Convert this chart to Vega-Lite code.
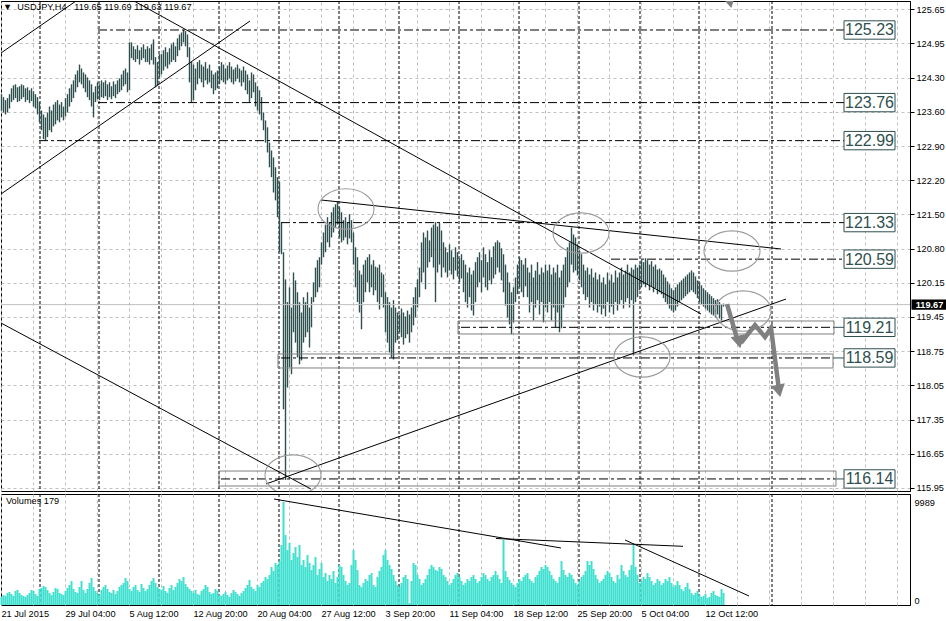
{
"$schema":"https://vega.github.io/schema/vega-lite/v6.json",
"padding":0,
"autosize":{"type":"pad"},
"background":"#ffffff",
"spacing":-3,
"config":{"view":{"stroke":"#000000","strokeWidth":1},"text":{"font":"Liberation Sans"}},
"datasets":{
"weeks":[{"i":19.25},{"i":48.75},{"i":78.75},{"i":108.75},{"i":138.75},{"i":168.75},{"i":198.75},{"i":228.75},{"i":258.75},{"i":288.75},{"i":319.25},{"i":348.75},{"i":385.25}],
"last":[{"price":119.67}],
"levels":[{"lv":125.23,"s":48.25,"e":421.25},{"lv":123.76,"s":48.25,"e":421.25},{"lv":122.99,"s":18.75,"e":421.25},{"lv":121.33,"s":139.75,"e":421.25},{"lv":120.59,"s":304.75,"e":421.25},{"lv":119.21,"s":229.75,"e":416.25},{"lv":118.59,"s":139.75,"e":415.75},{"lv":116.14,"s":109.75,"e":417.25}],
"boxes":[{"x1":228.25,"x2":416.25,"p1":119.338,"p2":119.075},{"x1":138.25,"x2":415.75,"p1":118.67,"p2":118.387},{"x1":108.75,"x2":417.25,"p1":116.3,"p2":115.997}],
"trends":[{"i1":-0.25,"p1":121.909,"i2":124.25,"p2":125.412},{"i1":-0.25,"p1":124.764,"i2":37.25,"p2":125.817},{"i1":66.25,"p1":125.817,"i2":349.75,"p2":119.48},{"i1":159.75,"p1":121.788,"i2":389.75,"p2":120.796},{"i1":132.25,"p1":116.038,"i2":392.25,"p2":119.783},{"i1":-0.25,"p1":119.297,"i2":154.75,"p2":115.936}],
"vtrends":[{"i1":136.25,"v1":10280,"i2":279.75,"v2":5528},{"i1":247.25,"v1":6449,"i2":340.75,"v2":5693},{"i1":311.75,"v1":6304,"i2":373.75,"v2":873}],
"ellipses":[{"i":172.25,"p":121.606},{"i":289.75,"p":121.12},{"i":365.25,"p":120.755},{"i":370.75,"p":119.54},{"i":320.25,"p":118.609},{"i":145.75,"p":116.22}],
"arrows":[{"seg":1,"o":1,"i":362.75,"p":119.682},{"seg":1,"o":2,"i":368.25,"p":118.913},{"seg":2,"o":1,"i":369.75,"p":118.893},{"seg":2,"o":2,"i":376.75,"p":119.257},{"seg":2,"o":3,"i":381.75,"p":119.014},{"seg":2,"o":4,"i":384.75,"p":119.196},{"seg":2,"o":5,"i":388.75,"p":117.94}],
"heads":[{"i":368.75,"p":118.913},{"i":388.75,"p":117.921},{"i":364.25,"p":125.8}],
"bars":[
{"i":0,"h":123.93,"l":123.60,"v":776},{"i":1,"h":123.87,"l":123.56,"v":970},{"i":2,"h":123.81,"l":123.52,"v":873},{"i":3,"h":123.85,"l":123.56,"v":1164},{"i":4,"h":123.93,"l":123.64,"v":1261},
{"i":5,"h":124.05,"l":123.77,"v":1067},{"i":6,"h":124.11,"l":123.81,"v":873},{"i":7,"h":124.13,"l":123.85,"v":1358},{"i":8,"h":124.07,"l":123.77,"v":1455},{"i":9,"h":124.09,"l":123.79,"v":1164},
{"i":10,"h":124.13,"l":123.83,"v":970},{"i":11,"h":124.11,"l":123.87,"v":873},{"i":12,"h":124.05,"l":123.77,"v":776},{"i":13,"h":124.07,"l":123.81,"v":970},{"i":14,"h":124.01,"l":123.75,"v":1164},
{"i":15,"h":124.05,"l":123.79,"v":1455},{"i":16,"h":123.99,"l":123.68,"v":1358},{"i":17,"h":123.93,"l":123.64,"v":1067},{"i":18,"h":123.87,"l":123.52,"v":873},{"i":19,"h":123.77,"l":123.36,"v":1552},
{"i":20,"h":123.60,"l":123.20,"v":1649},{"i":21,"h":123.52,"l":123.02,"v":1843},{"i":22,"h":123.46,"l":122.99,"v":1746},{"i":23,"h":123.56,"l":123.06,"v":1455},{"i":24,"h":123.68,"l":123.20,"v":1164},
{"i":25,"h":123.60,"l":123.16,"v":970},{"i":26,"h":123.72,"l":123.28,"v":1261},{"i":27,"h":123.77,"l":123.32,"v":1649},{"i":28,"h":123.81,"l":123.40,"v":1552},{"i":29,"h":123.72,"l":123.36,"v":1164},
{"i":30,"h":123.77,"l":123.46,"v":1067},{"i":31,"h":123.68,"l":123.40,"v":970},{"i":32,"h":123.85,"l":123.48,"v":1358},{"i":33,"h":123.93,"l":123.56,"v":1649},{"i":34,"h":124.05,"l":123.68,"v":1940},
{"i":35,"h":124.13,"l":123.77,"v":2328},{"i":36,"h":124.21,"l":123.85,"v":1552},{"i":37,"h":124.33,"l":123.97,"v":1261},{"i":38,"h":124.41,"l":124.07,"v":1164},{"i":39,"h":124.53,"l":124.17,"v":1746},
{"i":40,"h":124.45,"l":124.13,"v":2328},{"i":41,"h":124.37,"l":124.05,"v":1455},{"i":42,"h":124.33,"l":123.97,"v":1164},{"i":43,"h":124.27,"l":123.87,"v":1552},{"i":44,"h":124.21,"l":123.81,"v":2134},
{"i":45,"h":124.13,"l":123.68,"v":2619},{"i":46,"h":123.97,"l":123.46,"v":1746},{"i":47,"h":124.09,"l":123.77,"v":1358},{"i":48,"h":124.17,"l":123.83,"v":1164},{"i":49,"h":124.13,"l":123.81,"v":970},
{"i":50,"h":124.21,"l":123.87,"v":1455},{"i":51,"h":124.17,"l":123.85,"v":1746},{"i":52,"h":124.21,"l":123.89,"v":1940},{"i":53,"h":124.13,"l":123.81,"v":1552},{"i":54,"h":124.17,"l":123.87,"v":1261},
{"i":55,"h":124.09,"l":123.83,"v":1164},{"i":56,"h":124.19,"l":123.89,"v":1455},{"i":57,"h":124.13,"l":123.85,"v":1067},{"i":58,"h":124.21,"l":123.93,"v":1358},{"i":59,"h":124.25,"l":123.97,"v":1746},
{"i":60,"h":124.33,"l":124.01,"v":1940},{"i":61,"h":124.41,"l":124.09,"v":2134},{"i":62,"h":124.45,"l":124.13,"v":2619},{"i":63,"h":124.37,"l":123.97,"v":2328},{"i":64,"h":124.98,"l":124.01,"v":1552},
{"i":65,"h":124.98,"l":124.66,"v":1358},{"i":66,"h":124.90,"l":124.62,"v":1746},{"i":67,"h":124.84,"l":124.58,"v":1940},{"i":68,"h":124.92,"l":124.64,"v":1455},{"i":69,"h":124.82,"l":124.53,"v":1261},
{"i":70,"h":124.88,"l":124.62,"v":2037},{"i":71,"h":124.94,"l":124.66,"v":1649},{"i":72,"h":124.84,"l":124.58,"v":1358},{"i":73,"h":124.90,"l":124.58,"v":1552},{"i":74,"h":124.86,"l":124.53,"v":1940},
{"i":75,"h":124.94,"l":124.62,"v":2328},{"i":76,"h":125.04,"l":124.53,"v":2619},{"i":77,"h":124.68,"l":124.07,"v":2134},{"i":78,"h":124.58,"l":124.11,"v":1746},{"i":79,"h":124.74,"l":124.27,"v":1552},
{"i":80,"h":124.74,"l":124.33,"v":1455},{"i":81,"h":124.82,"l":124.41,"v":1843},{"i":82,"h":124.88,"l":124.49,"v":1358},{"i":83,"h":124.78,"l":124.45,"v":1164},{"i":84,"h":124.86,"l":124.53,"v":1649},
{"i":85,"h":124.94,"l":124.58,"v":1940},{"i":86,"h":124.98,"l":124.62,"v":1455},{"i":87,"h":124.90,"l":124.58,"v":1746},{"i":88,"h":125.06,"l":124.70,"v":2134},{"i":89,"h":125.14,"l":124.82,"v":2522},
{"i":90,"h":125.18,"l":124.90,"v":2328},{"i":91,"h":125.23,"l":124.98,"v":2716},{"i":92,"h":125.21,"l":124.90,"v":2037},{"i":93,"h":125.14,"l":124.68,"v":1746},{"i":94,"h":124.88,"l":124.17,"v":1552},
{"i":95,"h":124.58,"l":123.76,"v":1358},{"i":96,"h":124.53,"l":123.81,"v":1164},{"i":97,"h":124.45,"l":124.01,"v":1455},{"i":98,"h":124.58,"l":124.13,"v":1067},{"i":99,"h":124.62,"l":124.25,"v":970},
{"i":100,"h":124.53,"l":124.17,"v":1358},{"i":101,"h":124.49,"l":124.07,"v":1552},{"i":102,"h":124.58,"l":124.21,"v":1940},{"i":103,"h":124.45,"l":124.13,"v":1746},{"i":104,"h":124.53,"l":124.17,"v":1261},
{"i":105,"h":124.41,"l":124.05,"v":1067},{"i":106,"h":124.33,"l":123.93,"v":1164},{"i":107,"h":124.37,"l":124.01,"v":1552},{"i":108,"h":124.41,"l":124.05,"v":1358},{"i":109,"h":124.49,"l":124.13,"v":970},
{"i":110,"h":124.58,"l":124.21,"v":873},{"i":111,"h":124.53,"l":124.17,"v":1067},{"i":112,"h":124.45,"l":124.13,"v":1261},{"i":113,"h":124.51,"l":124.21,"v":970},{"i":114,"h":124.58,"l":124.25,"v":776},
{"i":115,"h":124.49,"l":124.17,"v":1164},{"i":116,"h":124.43,"l":124.13,"v":1455},{"i":117,"h":124.47,"l":124.19,"v":1261},{"i":118,"h":124.53,"l":124.25,"v":1067},{"i":119,"h":124.45,"l":124.17,"v":873},
{"i":120,"h":124.41,"l":124.09,"v":1164},{"i":121,"h":124.49,"l":124.17,"v":1358},{"i":122,"h":124.41,"l":124.01,"v":1649},{"i":123,"h":124.33,"l":123.93,"v":1940},{"i":124,"h":124.21,"l":123.77,"v":2425},
{"i":125,"h":124.37,"l":123.85,"v":1746},{"i":126,"h":124.33,"l":123.97,"v":1552},{"i":127,"h":124.17,"l":123.68,"v":1358},{"i":128,"h":124.09,"l":123.60,"v":1940},{"i":129,"h":124.01,"l":123.52,"v":1746},
{"i":130,"h":123.87,"l":123.40,"v":2134},{"i":131,"h":123.56,"l":123.20,"v":2328},{"i":132,"h":123.40,"l":122.95,"v":2716},{"i":133,"h":123.26,"l":122.75,"v":2522},{"i":134,"h":122.95,"l":122.45,"v":2910},
{"i":135,"h":122.79,"l":122.25,"v":3686},{"i":136,"h":122.65,"l":121.94,"v":3298},{"i":137,"h":122.45,"l":121.78,"v":4074},{"i":138,"h":122.25,"l":121.44,"v":3880},{"i":139,"h":122.15,"l":120.73,"v":4268},
{"i":140,"h":121.33,"l":120.69,"v":5820},{"i":141,"h":120.73,"l":117.55,"v":9989},{"i":142,"h":120.18,"l":116.12,"v":6790},{"i":143,"h":119.72,"l":117.99,"v":5335},{"i":144,"h":120.02,"l":118.40,"v":6014},
{"i":145,"h":119.61,"l":118.26,"v":4365},{"i":146,"h":120.32,"l":119.11,"v":5044},{"i":147,"h":120.16,"l":118.90,"v":5626},{"i":148,"h":119.92,"l":118.60,"v":4656},{"i":149,"h":119.72,"l":118.46,"v":5820},
{"i":150,"h":119.51,"l":118.54,"v":3880},{"i":151,"h":119.82,"l":118.90,"v":4365},{"i":152,"h":119.72,"l":119.01,"v":3686},{"i":153,"h":119.92,"l":119.11,"v":4850},{"i":154,"h":119.61,"l":118.80,"v":4074},
{"i":155,"h":119.82,"l":119.21,"v":3395},{"i":156,"h":120.12,"l":119.72,"v":3880},{"i":157,"h":120.42,"l":119.82,"v":4656},{"i":158,"h":120.57,"l":119.92,"v":2910},{"i":159,"h":120.63,"l":120.02,"v":3492},
{"i":160,"h":120.93,"l":120.48,"v":4074},{"i":161,"h":121.13,"l":120.63,"v":2716},{"i":162,"h":121.29,"l":120.73,"v":3104},{"i":163,"h":121.44,"l":120.93,"v":2328},{"i":164,"h":121.34,"l":120.83,"v":2910},
{"i":165,"h":121.54,"l":121.03,"v":2522},{"i":166,"h":121.64,"l":121.13,"v":3298},{"i":167,"h":121.70,"l":121.23,"v":2134},{"i":168,"h":121.76,"l":121.29,"v":2716},{"i":169,"h":121.64,"l":121.03,"v":3880},
{"i":170,"h":121.54,"l":120.93,"v":3686},{"i":171,"h":121.38,"l":120.97,"v":2910},{"i":172,"h":121.44,"l":121.03,"v":2328},{"i":173,"h":121.34,"l":120.89,"v":1940},{"i":174,"h":121.50,"l":121.01,"v":2134},
{"i":175,"h":121.38,"l":120.93,"v":3880},{"i":176,"h":121.13,"l":120.48,"v":5335},{"i":177,"h":120.83,"l":120.02,"v":4365},{"i":178,"h":120.63,"l":119.72,"v":3395},{"i":179,"h":120.36,"l":119.51,"v":1940},
{"i":180,"h":120.28,"l":119.17,"v":1746},{"i":181,"h":120.48,"l":119.72,"v":2134},{"i":182,"h":120.57,"l":119.92,"v":2522},{"i":183,"h":120.63,"l":120.12,"v":2328},{"i":184,"h":120.69,"l":119.92,"v":2910},
{"i":185,"h":120.48,"l":120.02,"v":3104},{"i":186,"h":120.57,"l":119.86,"v":1940},{"i":187,"h":120.44,"l":119.96,"v":1746},{"i":188,"h":120.42,"l":119.72,"v":2716},{"i":189,"h":120.48,"l":119.57,"v":3298},
{"i":190,"h":120.32,"l":119.82,"v":3686},{"i":191,"h":120.28,"l":119.61,"v":4850},{"i":192,"h":119.92,"l":119.11,"v":5335},{"i":193,"h":119.82,"l":118.90,"v":4365},{"i":194,"h":119.72,"l":118.70,"v":3880},
{"i":195,"h":119.61,"l":118.60,"v":3492},{"i":196,"h":119.76,"l":118.56,"v":2910},{"i":197,"h":119.61,"l":118.90,"v":2328},{"i":198,"h":119.51,"l":118.95,"v":1940},{"i":199,"h":119.47,"l":119.11,"v":1746},
{"i":200,"h":119.59,"l":119.01,"v":2134},{"i":201,"h":119.51,"l":118.86,"v":2716},{"i":202,"h":119.43,"l":118.99,"v":2910},{"i":203,"h":119.55,"l":119.07,"v":2522},{"i":204,"h":119.47,"l":118.90,"v":194},
{"i":205,"h":119.61,"l":119.11,"v":2328},{"i":206,"h":119.82,"l":119.25,"v":4074},{"i":207,"h":120.02,"l":119.41,"v":3880},{"i":208,"h":120.18,"l":119.61,"v":2910},{"i":209,"h":120.42,"l":119.82,"v":2522},
{"i":210,"h":120.93,"l":120.12,"v":1940},{"i":211,"h":121.13,"l":120.32,"v":2134},{"i":212,"h":121.03,"l":119.98,"v":2522},{"i":213,"h":121.17,"l":120.42,"v":2910},{"i":214,"h":120.97,"l":120.53,"v":3492},
{"i":215,"h":121.23,"l":120.63,"v":3880},{"i":216,"h":121.29,"l":120.42,"v":3686},{"i":217,"h":121.34,"l":119.72,"v":3395},{"i":218,"h":121.25,"l":120.32,"v":3298},{"i":219,"h":121.32,"l":120.48,"v":3686},
{"i":220,"h":121.17,"l":120.22,"v":3492},{"i":221,"h":120.93,"l":120.42,"v":2910},{"i":222,"h":120.83,"l":120.32,"v":2716},{"i":223,"h":120.73,"l":120.22,"v":2328},{"i":224,"h":120.89,"l":120.36,"v":1940},
{"i":225,"h":120.77,"l":120.28,"v":2134},{"i":226,"h":120.63,"l":120.18,"v":2522},{"i":227,"h":120.83,"l":120.36,"v":2910},{"i":228,"h":120.73,"l":120.24,"v":3104},{"i":229,"h":120.61,"l":120.12,"v":2716},
{"i":230,"h":120.69,"l":120.20,"v":2328},{"i":231,"h":120.57,"l":119.92,"v":1940},{"i":232,"h":120.48,"l":119.72,"v":2134},{"i":233,"h":120.32,"l":119.61,"v":2522},{"i":234,"h":120.42,"l":119.82,"v":2328},
{"i":235,"h":120.28,"l":119.55,"v":2716},{"i":236,"h":120.36,"l":119.45,"v":2910},{"i":237,"h":120.53,"l":119.72,"v":2522},{"i":238,"h":120.63,"l":120.02,"v":2134},{"i":239,"h":120.73,"l":120.12,"v":2328},
{"i":240,"h":120.57,"l":119.92,"v":2716},{"i":241,"h":120.83,"l":120.22,"v":3104},{"i":242,"h":120.69,"l":120.02,"v":2910},{"i":243,"h":120.53,"l":119.96,"v":2522},{"i":244,"h":120.77,"l":120.16,"v":2328},
{"i":245,"h":120.63,"l":120.08,"v":2716},{"i":246,"h":120.85,"l":120.20,"v":2910},{"i":247,"h":120.93,"l":120.28,"v":3298},{"i":248,"h":120.97,"l":120.42,"v":2910},{"i":249,"h":120.93,"l":120.32,"v":2522},
{"i":250,"h":120.81,"l":120.16,"v":2134},{"i":251,"h":120.69,"l":119.92,"v":6305},{"i":252,"h":120.48,"l":119.65,"v":3298},{"i":253,"h":120.32,"l":119.41,"v":2716},{"i":254,"h":120.12,"l":119.27,"v":2425},
{"i":255,"h":119.92,"l":119.07,"v":2134},{"i":256,"h":120.02,"l":119.31,"v":1940},{"i":257,"h":120.22,"l":119.72,"v":1746},{"i":258,"h":120.48,"l":119.88,"v":2134},{"i":259,"h":120.63,"l":120.02,"v":2522},
{"i":260,"h":120.57,"l":119.92,"v":2328},{"i":261,"h":120.48,"l":119.82,"v":2716},{"i":262,"h":120.61,"l":120.04,"v":2910},{"i":263,"h":120.42,"l":119.82,"v":3104},{"i":264,"h":120.32,"l":119.51,"v":2522},
{"i":265,"h":120.48,"l":119.72,"v":2328},{"i":266,"h":120.22,"l":119.35,"v":2134},{"i":267,"h":120.36,"l":119.61,"v":2716},{"i":268,"h":120.53,"l":119.76,"v":2910},{"i":269,"h":120.28,"l":119.47,"v":3298},
{"i":270,"h":120.42,"l":119.72,"v":3686},{"i":271,"h":120.32,"l":119.31,"v":3492},{"i":272,"h":120.48,"l":119.61,"v":3880},{"i":273,"h":120.36,"l":119.51,"v":3686},{"i":274,"h":120.48,"l":119.72,"v":3298},
{"i":275,"h":120.28,"l":119.35,"v":2910},{"i":276,"h":120.42,"l":119.61,"v":2522},{"i":277,"h":120.32,"l":119.21,"v":2328},{"i":278,"h":120.48,"l":119.51,"v":2134},{"i":279,"h":120.22,"l":119.11,"v":2716},
{"i":280,"h":120.36,"l":119.19,"v":4268},{"i":281,"h":120.48,"l":119.61,"v":3395},{"i":282,"h":120.63,"l":119.82,"v":2910},{"i":283,"h":120.83,"l":120.02,"v":2716},{"i":284,"h":120.93,"l":120.12,"v":3104},
{"i":285,"h":121.23,"l":120.48,"v":2910},{"i":286,"h":121.09,"l":120.32,"v":2522},{"i":287,"h":121.03,"l":120.36,"v":2134},{"i":288,"h":120.89,"l":120.26,"v":1940},{"i":289,"h":120.77,"l":120.16,"v":2328},
{"i":290,"h":120.69,"l":120.02,"v":2716},{"i":291,"h":120.48,"l":119.88,"v":2910},{"i":292,"h":120.36,"l":119.76,"v":3298},{"i":293,"h":120.42,"l":119.82,"v":4268},{"i":294,"h":120.28,"l":119.61,"v":3880},
{"i":295,"h":120.40,"l":119.72,"v":4268},{"i":296,"h":120.22,"l":119.55,"v":3492},{"i":297,"h":120.32,"l":119.68,"v":2910},{"i":298,"h":120.18,"l":119.51,"v":2522},{"i":299,"h":120.28,"l":119.63,"v":2134},
{"i":300,"h":120.12,"l":119.47,"v":2328},{"i":301,"h":120.22,"l":119.59,"v":2522},{"i":302,"h":120.08,"l":119.43,"v":2910},{"i":303,"h":120.32,"l":119.72,"v":3298},{"i":304,"h":120.16,"l":119.51,"v":3104},
{"i":305,"h":120.28,"l":119.63,"v":2716},{"i":306,"h":120.12,"l":119.47,"v":2328},{"i":307,"h":120.36,"l":119.72,"v":2134},{"i":308,"h":120.22,"l":119.55,"v":2910},{"i":309,"h":120.32,"l":119.68,"v":2522},
{"i":310,"h":120.42,"l":119.76,"v":3880},{"i":311,"h":120.28,"l":119.59,"v":3298},{"i":312,"h":120.36,"l":119.72,"v":2910},{"i":313,"h":120.48,"l":119.80,"v":2716},{"i":314,"h":120.32,"l":119.61,"v":3395},
{"i":315,"h":120.42,"l":119.76,"v":3880},{"i":316,"h":120.38,"l":118.64,"v":5820},{"i":317,"h":120.48,"l":119.72,"v":3686},{"i":318,"h":120.42,"l":119.82,"v":2910},{"i":319,"h":120.48,"l":119.96,"v":2134},
{"i":320,"h":120.57,"l":120.02,"v":2328},{"i":321,"h":120.53,"l":120.08,"v":2716},{"i":322,"h":120.61,"l":120.02,"v":2522},{"i":323,"h":120.57,"l":120.08,"v":3104},{"i":324,"h":120.48,"l":119.96,"v":2716},
{"i":325,"h":120.55,"l":120.04,"v":2328},{"i":326,"h":120.44,"l":119.92,"v":1940},{"i":327,"h":120.48,"l":120.00,"v":2134},{"i":328,"h":120.38,"l":119.88,"v":2522},{"i":329,"h":120.40,"l":119.92,"v":2328},
{"i":330,"h":120.36,"l":119.88,"v":1940},{"i":331,"h":120.28,"l":119.80,"v":2134},{"i":332,"h":120.22,"l":119.72,"v":2522},{"i":333,"h":120.14,"l":119.68,"v":2328},{"i":334,"h":120.08,"l":119.59,"v":2716},
{"i":335,"h":120.00,"l":119.55,"v":2134},{"i":336,"h":119.96,"l":119.51,"v":1746},{"i":337,"h":120.02,"l":119.55,"v":1940},{"i":338,"h":120.08,"l":119.63,"v":2328},{"i":339,"h":120.12,"l":119.72,"v":1940},
{"i":340,"h":120.16,"l":119.76,"v":1552},{"i":341,"h":120.20,"l":119.80,"v":1358},{"i":342,"h":120.24,"l":119.84,"v":1746},{"i":343,"h":120.28,"l":119.88,"v":2134},{"i":344,"h":120.32,"l":119.92,"v":1552},
{"i":345,"h":120.36,"l":119.96,"v":1164},{"i":346,"h":120.32,"l":119.92,"v":970},{"i":347,"h":120.24,"l":119.88,"v":1164},{"i":348,"h":120.16,"l":119.80,"v":1358},{"i":349,"h":120.12,"l":119.72,"v":970},
{"i":350,"h":120.06,"l":119.68,"v":776},{"i":351,"h":120.00,"l":119.63,"v":873},{"i":352,"h":119.96,"l":119.59,"v":1067},{"i":353,"h":119.92,"l":119.55,"v":679},{"i":354,"h":119.88,"l":119.51,"v":776},
{"i":355,"h":119.84,"l":119.47,"v":1164},{"i":356,"h":119.80,"l":119.45,"v":1358},{"i":357,"h":119.76,"l":119.41,"v":970},{"i":358,"h":119.78,"l":119.47,"v":873},{"i":359,"h":119.72,"l":119.39,"v":776},
{"i":360,"h":119.68,"l":119.35,"v":1552},{"i":361,"h":119.69,"l":119.63,"v":1164}
]},
"vconcat":[
{"width":909,"height":490,
"title":{"text":"▼\u00a0\u00a0USDJPY,H4\u00a0\u00a0\u00a0119.65 119.69 119.63 119.67","anchor":"start","frame":"group","offset":-12,"dx":2,"font":"Liberation Sans","fontSize":9.2,"fontWeight":"normal","color":"#000000"},
"resolve":{"axis":{"x":"independent","y":"independent"}},
"layer":[
{"data":{"name":"weeks"},"mark":{"type":"rule","color":"#000000","strokeDash":[3,2],"strokeWidth":1},
 "encoding":{"x":{"field":"i","type":"quantitative","scale":{"domain":[-0.25,454.25],"nice":false,"zero":false},
  "axis":{"values":[-0.25,15.75,31.75,47.75,63.75,79.75,95.75,111.75,127.75,143.75,159.75,175.75,191.75,207.75,223.75,239.75,255.75,271.75,287.75,303.75,319.75,335.75,351.75,367.75,383.75,399.75,415.75,431.75,447.75],"grid":true,"gridColor":"#C0C0C0","gridDash":[3,3],"labels":false,"ticks":false,"domain":false,"title":null}}}},
{"data":{"name":"bars"},"mark":{"type":"rule","color":"#2F4F4F","strokeWidth":1.4},
 "encoding":{"x":{"field":"i","type":"quantitative","scale":{"domain":[-0.25,454.25],"nice":false,"zero":false},"axis":null},
  "y":{"field":"l","type":"quantitative","scale":{"domain":[115.896,125.817],"nice":false,"zero":false},
   "axis":{"orient":"right","values":[115.957,116.649,117.342,118.034,118.726,119.419,120.111,120.804,121.496,122.189,122.881,123.574,124.266,124.959,125.651],
   "labelExpr":"['125.65','124.95','124.30','123.60','122.90','122.20','121.50','120.80','120.15','119.45','118.75','118.05','117.35','116.65','115.95'][round((125.651-datum.value)/0.69243)]",
   "grid":true,"gridColor":"#C0C0C0","gridDash":[3,3],"tickSize":4,"tickColor":"#000000","domainColor":"#000000","labelPadding":2,"labelFont":"Liberation Sans","labelFontSize":9.2,"labelColor":"#000000","title":null}},
  "y2":{"field":"h"}}},
{"data":{"name":"last"},"mark":{"type":"rule","color":"#C0C0C0","strokeWidth":1},
 "encoding":{"y":{"field":"price","type":"quantitative","scale":{"domain":[115.896,125.817],"nice":false,"zero":false},"axis":null}}},
{"data":{"name":"levels"},"mark":{"type":"rule","color":"#000000","strokeDash":[9,3,3,3],"strokeWidth":1},
 "encoding":{"x":{"field":"s","type":"quantitative","scale":{"domain":[-0.25,454.25],"nice":false,"zero":false},"axis":null},"x2":{"field":"e"},
  "y":{"field":"lv","type":"quantitative","scale":{"domain":[115.896,125.817],"nice":false,"zero":false},"axis":null}}},
{"data":{"name":"levels"},"transform":[{"filter":"datum.e < 421"}],"mark":{"type":"rule","color":"#2F4F4F","strokeWidth":1},
 "encoding":{"x":{"field":"e","type":"quantitative","scale":{"domain":[-0.25,454.25],"nice":false,"zero":false},"axis":null},"x2":{"datum":421.25},
  "y":{"field":"lv","type":"quantitative","scale":{"domain":[115.896,125.817],"nice":false,"zero":false},"axis":null}}},
{"data":{"name":"boxes"},"mark":{"type":"rect","filled":false,"color":"#808080","strokeWidth":1},
 "encoding":{"x":{"field":"x1","type":"quantitative","scale":{"domain":[-0.25,454.25],"nice":false,"zero":false},"axis":null},"x2":{"field":"x2"},
  "y":{"field":"p1","type":"quantitative","scale":{"domain":[115.896,125.817],"nice":false,"zero":false},"axis":null},"y2":{"field":"p2"}}},
{"data":{"name":"trends"},"mark":{"type":"rule","color":"#000000","strokeWidth":1,"clip":true},
 "encoding":{"x":{"field":"i1","type":"quantitative","scale":{"domain":[-0.25,454.25],"nice":false,"zero":false},"axis":null},"x2":{"field":"i2"},
  "y":{"field":"p1","type":"quantitative","scale":{"domain":[115.896,125.817],"nice":false,"zero":false},"axis":null},"y2":{"field":"p2"}}},
{"data":{"name":"ellipses"},"mark":{"type":"point","shape":"M-1,0A1,0.72,0,1,0,1,0A1,0.72,0,1,0,-1,0Z","size":3136,"filled":false,"color":"#9A9A9A","strokeWidth":1.1,"opacity":1,"clip":true},
 "encoding":{"x":{"field":"i","type":"quantitative","scale":{"domain":[-0.25,454.25],"nice":false,"zero":false},"axis":null},
  "y":{"field":"p","type":"quantitative","scale":{"domain":[115.896,125.817],"nice":false,"zero":false},"axis":null}}},
{"data":{"name":"arrows"},"mark":{"type":"line","color":"#808080","strokeWidth":4.5,"clip":true},
 "encoding":{"x":{"field":"i","type":"quantitative","scale":{"domain":[-0.25,454.25],"nice":false,"zero":false},"axis":null},
  "y":{"field":"p","type":"quantitative","scale":{"domain":[115.896,125.817],"nice":false,"zero":false},"axis":null},
  "detail":{"field":"seg","type":"nominal"},"order":{"field":"o","type":"quantitative"}}},
{"data":{"name":"heads"},"mark":{"type":"point","shape":"triangle-down","size":210,"filled":true,"color":"#808080","opacity":1,"angle":-12,"clip":true},
 "encoding":{"x":{"field":"i","type":"quantitative","scale":{"domain":[-0.25,454.25],"nice":false,"zero":false},"axis":null},
  "y":{"field":"p","type":"quantitative","scale":{"domain":[115.896,125.817],"nice":false,"zero":false},"axis":null}}},
{"data":{"name":"levels"},"mark":{"type":"point","shape":"M-1,-0.36H1V0.36H-1Z","size":2601,"filled":true,"fill":"#FFFFFF","stroke":"#2F4F4F","strokeWidth":1,"opacity":1},
 "encoding":{"x":{"datum":434,"type":"quantitative","scale":{"domain":[-0.25,454.25],"nice":false,"zero":false},"axis":null},
  "y":{"field":"lv","type":"quantitative","scale":{"domain":[115.896,125.817],"nice":false,"zero":false},"axis":null}}},
{"data":{"name":"levels"},"mark":{"type":"text","font":"Liberation Sans","fontSize":16,"color":"#2F4F4F","align":"center","baseline":"middle","dy":0.5},
 "encoding":{"x":{"datum":434,"type":"quantitative","scale":{"domain":[-0.25,454.25],"nice":false,"zero":false},"axis":null},
  "y":{"field":"lv","type":"quantitative","scale":{"domain":[115.896,125.817],"nice":false,"zero":false},"axis":null},
  "text":{"field":"lv","type":"quantitative","format":".2f"}}},
{"data":{"name":"last"},"mark":{"type":"point","shape":"M-1,-0.28H1V0.28H-1Z","size":1296,"filled":true,"color":"#000000","opacity":1},
 "encoding":{"x":{"datum":464,"type":"quantitative","scale":{"domain":[-0.25,454.25],"nice":false,"zero":false},"axis":null},
  "y":{"field":"price","type":"quantitative","scale":{"domain":[115.896,125.817],"nice":false,"zero":false},"axis":null}}},
{"data":{"name":"last"},"mark":{"type":"text","font":"Liberation Sans","fontSize":9.2,"fontWeight":"bold","color":"#FFFFFF","align":"center","baseline":"middle"},
 "encoding":{"x":{"datum":464,"type":"quantitative","scale":{"domain":[-0.25,454.25],"nice":false,"zero":false},"axis":null},
  "y":{"field":"price","type":"quantitative","scale":{"domain":[115.896,125.817],"nice":false,"zero":false},"axis":null},
  "text":{"field":"price","type":"quantitative","format":".2f"}}}
]},
{"width":909,"height":111,
"title":{"text":"Volumes 179","anchor":"start","frame":"group","offset":-13,"dx":5,"font":"Liberation Sans","fontSize":9.2,"fontWeight":"normal","color":"#000000"},
"resolve":{"axis":{"x":"independent","y":"independent"}},
"layer":[
{"data":{"name":"weeks"},"mark":{"type":"rule","color":"#000000","strokeDash":[3,2],"strokeWidth":1},
 "encoding":{"x":{"field":"i","type":"quantitative","scale":{"domain":[-0.25,454.25],"nice":false,"zero":false},
  "axis":{"values":[-0.25,15.75,31.75,47.75,63.75,79.75,95.75,111.75,127.75,143.75,159.75,175.75,191.75,207.75,223.75,239.75,255.75,271.75,287.75,303.75,319.75,335.75,351.75,367.75,383.75,399.75,415.75,431.75,447.75],
   "labelExpr":"((datum.value+0.25)%32==0 && (datum.value+0.25)/32<12) ? ['21 Jul 2015','29 Jul 04:00','5 Aug 12:00','12 Aug 20:00','20 Aug 04:00','27 Aug 12:00','3 Sep 20:00','11 Sep 04:00','18 Sep 12:00','25 Sep 20:00','5 Oct 04:00','12 Oct 12:00'][(datum.value+0.25)/32] : ''",
   "grid":true,"gridColor":"#C0C0C0","gridDash":[3,3],"ticks":false,"domain":false,"labelAlign":"left","labelPadding":4,"labelOverlap":false,"labelFlush":false,"labelFont":"Liberation Sans","labelFontSize":9.2,"labelColor":"#000000","title":null}}}},
{"data":{"name":"bars"},"mark":{"type":"rule","color":"#40E0D0","strokeWidth":2},
 "encoding":{"x":{"field":"i","type":"quantitative","scale":{"domain":[-0.25,454.25],"nice":false,"zero":false},"axis":null},
  "y":{"field":"v","type":"quantitative","scale":{"domain":[0,10765],"nice":false,"zero":true},
   "axis":{"orient":"right","values":[0,9989],"format":"d","grid":false,"ticks":false,"domainColor":"#000000","labelPadding":4,"labelFlush":true,"labelFont":"Liberation Sans","labelFontSize":9.2,"labelColor":"#000000","title":null}},
  "y2":{"datum":0}}},
{"data":{"name":"vtrends"},"mark":{"type":"rule","color":"#000000","strokeWidth":1,"clip":true},
 "encoding":{"x":{"field":"i1","type":"quantitative","scale":{"domain":[-0.25,454.25],"nice":false,"zero":false},"axis":null},"x2":{"field":"i2"},
  "y":{"field":"v1","type":"quantitative","scale":{"domain":[0,10765],"nice":false,"zero":true},"axis":null},"y2":{"field":"v2"}}}
]}
]
}
